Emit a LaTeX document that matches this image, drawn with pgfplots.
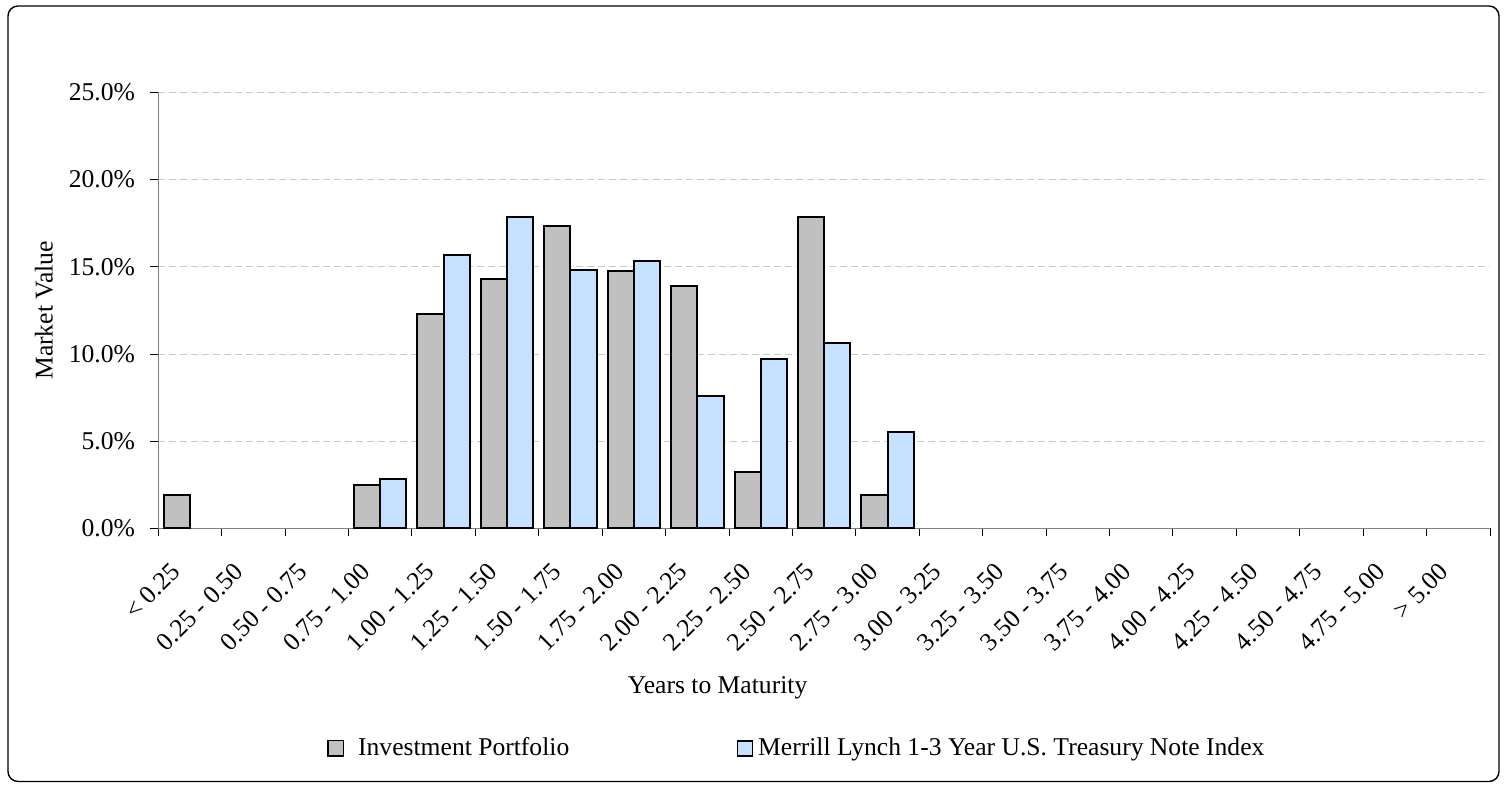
\documentclass[border=0pt]{standalone}
\usepackage{fontspec}
\setmainfont{Liberation Serif}
\usepackage{pgfplots}
\pgfplotsset{compat=1.18}
\definecolor{barGray}{HTML}{C0C0C0}
\definecolor{barBlue}{HTML}{C6E0FF}
\definecolor{gridGray}{HTML}{C8C8C8}
\definecolor{axisGray}{HTML}{808080}
\begin{document}
\fontsize{12.8pt}{15.4pt}\selectfont
\begin{tikzpicture}
\path[use as bounding box] (0,0) rectangle (752.5pt,392.5pt);
\draw[line width=0.7pt, rounded corners=5pt] (4pt,1.75pt) rectangle (749.5pt,389.5pt);
\begin{axis}[
  at={(79.15pt,128.25pt)}, anchor=south west,
  scale only axis, width=665.85pt, height=218.1pt,
  ybar, bar width=0.413,
  xmin=-0.5, xmax=20.5, ymin=0, ymax=25,
  axis x line=bottom, axis y line=left,
  axis line style={axisGray, line width=0.5pt, -},
  tick align=outside,
  tick style={black, line width=0.5pt},
  major tick length=4pt, minor tick length=4pt,
  xtick={0,...,20},
  major x tick style={/pgfplots/major tick length=0pt},
  minor xtick={-0.5,0.5,...,20.5},
  xticklabels={{< 0.25},{0.25 - 0.50},{0.50 - 0.75},{0.75 - 1.00},{1.00 - 1.25},{1.25 - 1.50},{1.50 - 1.75},{1.75 - 2.00},{2.00 - 2.25},{2.25 - 2.50},{2.50 - 2.75},{2.75 - 3.00},{3.00 - 3.25},{3.25 - 3.50},{3.50 - 3.75},{3.75 - 4.00},{4.00 - 4.25},{4.25 - 4.50},{4.50 - 4.75},{4.75 - 5.00},{> 5.00}},
  xticklabel style={inner sep=0pt, anchor=east, xshift=-7.0pt, yshift=-15.6pt, rotate=45},
  ytick={0,5,...,25},
  yticklabel={\pgfmathprintnumber[fixed,fixed zerofill,precision=1,assume math mode=true]{\tick}\%},
  yticklabel style={inner sep=0pt, anchor=east, xshift=-7.5pt},
  ymajorgrids,
  major y grid style={gridGray, dash pattern=on 3.5pt off 2pt, line width=0.5pt},
  xlabel={Years to Maturity},
  xlabel style={at={(axis description cs:0.42,-0.3794)}, anchor=base},
  ylabel={Market Value},
  ylabel style={at={(axis description cs:-0.0858,0.5)}, anchor=center},
  legend columns=2, legend cell align=left,
  legend style={at={(axis description cs:0.1269,-0.5039)}, anchor=west, draw=none, fill=none,
    inner sep=0pt, outer sep=0pt, /tikz/column sep=0pt,
    /tikz/every even column/.append style={column sep=83.7pt},
    nodes={inner sep=0pt}},
]
\addplot[fill=barGray, draw=black, line width=1pt, bar shift=-0.2065,
  legend image code/.code={\draw[fill=barGray,draw=black,line width=0.85pt] (0pt,-3.85pt) rectangle (7.7pt,3.85pt); \path[draw=none,fill=none] (7.7pt,0pt) -- (15pt,0pt);}]
  coordinates {(0,1.93) (3,2.49) (4,12.31) (5,14.30) (6,17.36) (7,14.76) (8,13.92) (9,3.21) (10,17.88) (11,1.93)};
\addlegendentry{Investment Portfolio}
\addplot[fill=barBlue, draw=black, line width=1pt, bar shift=0.2065,
  legend image code/.code={\draw[fill=barBlue,draw=black,line width=0.85pt] (0pt,-3.75pt) rectangle (7.5pt,3.75pt); \path[draw=none,fill=none] (7.5pt,0pt) -- (10.3pt,0pt);}]
  coordinates {(3,2.85) (4,15.68) (5,17.84) (6,14.84) (7,15.35) (8,7.57) (9,9.73) (10,10.65) (11,5.54)};
\addlegendentry{Merrill Lynch 1-3 Year U.S. Treasury Note Index}
\end{axis}
\end{tikzpicture}
\end{document}
